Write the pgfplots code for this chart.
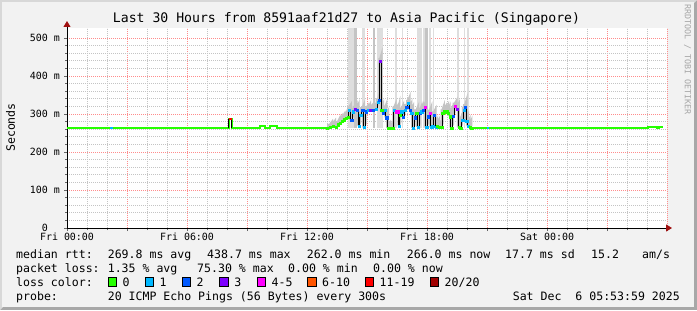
\documentclass[border=0pt]{standalone}
\usepackage{fontspec}
\setmainfont{DejaVu Sans Mono}
\usepackage{pgfplots}
\usepackage{pgfplotstable}
\pgfplotsset{compat=1.18}
\usetikzlibrary{arrows.meta}
\definecolor{c0}{HTML}{26FF00}
\definecolor{c1}{HTML}{00B8FF}
\definecolor{c2}{HTML}{0059FF}
\definecolor{c3}{HTML}{7E00FF}
\definecolor{c4}{HTML}{FF00FF}
\definecolor{c6}{HTML}{FF5500}
\definecolor{c11}{HTML}{FF0000}
\definecolor{c20}{HTML}{A10000}
\definecolor{bg}{HTML}{F2F2F2}
\definecolor{frA}{HTML}{D8D8D8}
\definecolor{frB}{HTML}{A8A8A8}
\definecolor{majg}{HTML}{FF8C8C}
\definecolor{ming}{HTML}{C4C4C4}
\definecolor{smokeA}{HTML}{DEDEDE}
\definecolor{smokeB}{HTML}{C4C4C4}
\definecolor{arr}{HTML}{A01010}

\pgfplotstableread{
h v c
13.00 262 a
13.15 265 a
13.30 268 a
13.45 266 a
13.55 272 a
13.65 275 a
13.75 280 a
13.85 285 a
13.95 288 a
14.05 292 a
14.10 310 b
14.23 284 c
14.32 306 b
14.40 312 d
14.52 309 c
14.60 268 b
14.68 297 b
14.78 309 c
14.87 265 b
14.95 306 c
15.07 310 b
15.18 309 d
15.32 309 c
15.45 312 b
15.57 332 b
15.62 337 c
15.67 438 d
15.73 310 a
15.82 302 c
15.90 309 b
15.98 290 c
16.07 262 a
16.20 262 a
16.32 262 a
16.37 310 b
16.45 306 e
16.57 306 e
16.62 268 b
16.67 297 a
16.73 306 b
16.82 292 c
16.90 310 b
16.98 317 c
17.07 328 b
17.15 310 c
17.23 303 b
17.32 262 b
17.40 290 c
17.48 303 a
17.57 265 b
17.65 302 c
17.73 306 b
17.82 310 c
17.90 317 e
17.98 265 b
18.07 293 c
18.15 302 e
18.23 265 b
18.28 268 b
18.35 297 c
18.45 265 b
18.52 268 a
18.62 265 a
18.73 265 a
18.78 303 a
18.85 306 a
18.98 306 a
19.07 302 a
19.15 293 a
19.23 263 a
19.32 295 c
19.40 321 e
19.52 312 d
19.62 265 a
19.68 263 a
19.78 284 b
19.85 310 b
19.92 317 c
19.98 280 b
20.07 268 b
20.15 265 a
20.23 262 a
}\noisy

\pgfplotstableread{
h v
0.00 264
0.30 264
0.30 262
8.08 262
8.08 286
8.23 286
8.23 262
9.65 262
9.65 269
9.90 269
9.90 262
10.15 262
10.15 269
10.50 269
10.50 262
13.00 262
}\flatA

\pgfplotstableread{
h v
20.23 262
29.05 262
29.05 266.6
29.50 266.6
29.50 264
29.60 264
29.60 266.5
29.80 266.5
}\flatB

\begin{document}
\begin{tikzpicture}[x=1bp,y=1bp]
\useasboundingbox (0,0) rectangle (697,310);
\fill[frB] (0,0) rectangle (697,310);
\fill[frA] (0,0) -- (0,310) -- (697,310) -- (694,307) -- (3,307) -- (3,3) -- cycle;
\fill[bg] (2,3) rectangle (694,308);

\begin{axis}[
  at={(67bp,82bp)}, anchor=south west,
  scale only axis, width=600bp, height=200bp,
  xmin=0, xmax=30, ymin=0, ymax=526.3,
  axis background/.style={fill=white},
  axis lines=left,
  axis line style={line width=1bp, black},
  x axis line style={shorten >=-5bp, -{Triangle[length=6bp,width=7bp,color=arr]}},
  y axis line style={shorten >=-7bp, -{Triangle[length=6bp,width=7bp,color=arr]}},
  xtick={0,3,...,30},
  xticklabels={Fri 00:00,,Fri 06:00,,Fri 12:00,,Fri 18:00,,Sat 00:00,,},
  ytick={0,100,...,500},
  yticklabels={0\hphantom{\ m},100 m,200 m,300 m,400 m,500 m},
  minor x tick num=2,
  minor y tick num=4,
  grid=both,
  major grid style={majg, dash pattern=on 1bp off 1bp, line width=0.9bp},
  minor grid style={ming, dash pattern=on 1bp off 1bp, line width=0.9bp},
  tick align=outside,
  major tick length=3bp, minor tick length=2bp,
  tick style={black!60, line width=0.8bp},
  tick label style={font=\fontsize{10}{12}\selectfont, inner sep=0pt},
  yticklabel style={anchor=east, xshift=-4bp},
  xticklabel style={anchor=north, yshift=-2bp},
  clip=true,
]
% tall smoke bars
\addplot[fill=smokeA, draw=none] coordinates {(14.05,262) (14.35,262) (14.35,526.3) (14.05,526.3)} -- cycle;
\addplot[fill=smokeB, draw=none] coordinates {(14.35,262) (14.50,262) (14.50,526.3) (14.35,526.3)} -- cycle;
\addplot[fill=smokeA, draw=none] coordinates {(14.75,262) (14.90,262) (14.90,526.3) (14.75,526.3)} -- cycle;
\addplot[fill=smokeB, draw=none] coordinates {(15.30,262) (15.40,262) (15.40,526.3) (15.30,526.3)} -- cycle;
\addplot[fill=smokeA, draw=none] coordinates {(15.50,262) (15.80,262) (15.80,526.3) (15.50,526.3)} -- cycle;
\addplot[fill=smokeA, draw=none] coordinates {(16.40,262) (16.50,262) (16.50,526.3) (16.40,526.3)} -- cycle;
\addplot[fill=smokeA, draw=none] coordinates {(16.75,262) (16.82,262) (16.82,526.3) (16.75,526.3)} -- cycle;
\addplot[fill=smokeA, draw=none] coordinates {(17.50,262) (17.75,262) (17.75,526.3) (17.50,526.3)} -- cycle;
\addplot[fill=smokeA, draw=none] coordinates {(17.80,262) (17.90,262) (17.90,526.3) (17.80,526.3)} -- cycle;
\addplot[fill=smokeB, draw=none] coordinates {(17.90,262) (18.05,262) (18.05,526.3) (17.90,526.3)} -- cycle;
\addplot[fill=smokeA, draw=none] coordinates {(18.10,262) (18.20,262) (18.20,526.3) (18.10,526.3)} -- cycle;
\addplot[fill=smokeA, draw=none] coordinates {(18.30,262) (18.36,262) (18.36,526.3) (18.30,526.3)} -- cycle;
\addplot[fill=smokeA, draw=none] coordinates {(19.50,262) (19.60,262) (19.60,526.3) (19.50,526.3)} -- cycle;
\addplot[fill=smokeA, draw=none] coordinates {(19.85,262) (19.91,262) (19.91,526.3) (19.85,526.3)} -- cycle;
\addplot[fill=smokeA, draw=none] coordinates {(20.00,262) (20.10,262) (20.10,526.3) (20.00,526.3)} -- cycle;
% smoke band around median
\addplot[smokeB, line width=3bp, const plot mark mid, yshift=2bp] table[x=h,y=v]{\noisy};
% flat median parts
\addplot[c0, line width=2bp] table[x=h,y=v]{\flatA};
\addplot[c0, line width=2bp] table[x=h,y=v]{\flatB};
\addplot[black, line width=1bp] coordinates {(8.08,262) (8.08,286)};
\addplot[black, line width=1bp] coordinates {(8.23,286) (8.23,262)};
\addplot[c11, line width=2bp] coordinates {(8.08,286) (8.23,286)};
\addplot[c1, line width=2bp] coordinates {(2.15,262) (2.30,262)};
\addplot[c1, line width=2bp] coordinates {(21.0,262) (21.1,262)};
% noisy median
\addplot[black, line width=1bp, const plot mark mid] table[x=h,y=v]{\noisy};
\addplot[scatter, only marks, mark=square*, mark size=1.1bp,
  point meta=explicit symbolic,
  scatter/classes={a={c0,fill=c0},b={c1,fill=c1},c={c2,fill=c2},d={c3,fill=c3},e={c4,fill=c4}}]
  table[x=h,y=v,meta=c]{\noisy};
\end{axis}

% title and side texts
\node[font=\fontsize{13.2}{15}\selectfont, anchor=base, inner sep=0pt] at (346.5,287.5) {Last 30 Hours from 8591aaf21d27 to Asia Pacific (Singapore)};
\node[font=\fontsize{11.6}{14}\selectfont, rotate=90, inner sep=0pt] at (10.5,182.5) {Seconds};
\node[font=\fontsize{8.4}{10}\selectfont, rotate=-90, inner sep=0pt, text=black!35] at (687.5,250.5) {RRDTOOL / TOBI OETIKER};

% legend
\tikzset{lg/.style={font=\fontsize{11.6}{14}\selectfont, anchor=base west, inner sep=0pt}}
\node[lg] at (16,51.5) {median rtt:};
\node[lg] at (107.6,51.5) {269.8 ms avg};
\node[lg] at (207,51.5) {438.7 ms max};
\node[lg] at (306.7,51.5) {262.0 ms min};
\node[lg] at (406.7,51.5) {266.0 ms now};
\node[lg] at (505,51.5) {17.7 ms sd};
\node[lg] at (591,51.5) {15.2};
\node[lg] at (642,51.5) {am/s};

\node[lg] at (16,37.5) {packet loss:};
\node[lg] at (107.6,37.5) {1.35 \% avg};
\node[lg] at (197,37.5) {75.30 \% max};
\node[lg] at (288,37.5) {0.00 \% min};
\node[lg] at (373,37.5) {0.00 \% now};

\node[lg] at (16,23.5) {loss color:};
\foreach \bx/\col/\lab in {108/c0/0, 145/c1/1, 182/c2/2, 219.6/c3/3, 257/c4/4-5, 307.5/c6/6-10, 365/c11/11-19, 430/c20/{20/20}}{
  \filldraw[fill=\col, draw=black, line width=0.8bp] (\bx,24) rectangle ++(8.5,8.5);
  \node[lg] at (\bx+14.5,23.5) {\lab};
}

\node[lg] at (16,9.5) {probe:};
\node[lg] at (107.6,9.5) {20 ICMP Echo Pings (56 Bytes) every 300s};
\node[lg, anchor=base east] at (680,9.5) {Sat Dec\ \ 6 05:53:59 2025};
\end{tikzpicture}
\end{document}
